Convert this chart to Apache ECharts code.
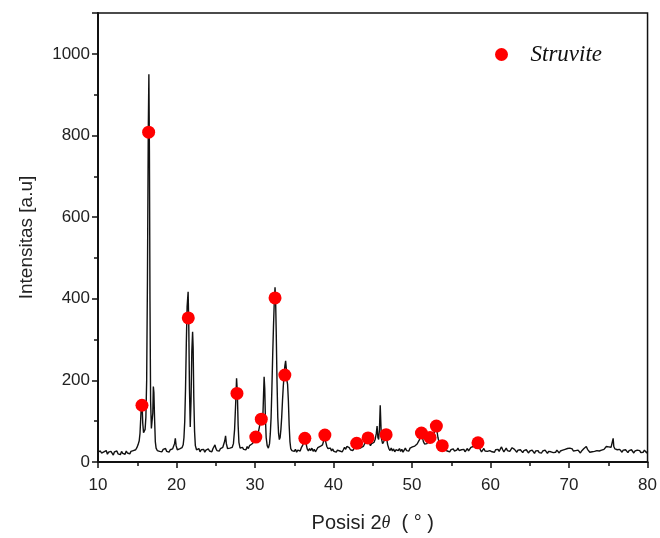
<!DOCTYPE html>
<html>
<head>
<meta charset="utf-8">
<script src="https://cdn.jsdelivr.net/npm/echarts@6/dist/echarts.min.js"></script>
<style>
  html, body { margin: 0; padding: 0; background: #fff; }
  #chart { width: 660px; height: 538px; }
</style>
</head>
<body>
<div id="chart"></div>
<script>
// XRD scan, [2theta, intensity] in pieces
var scan10to17 = [
  [10.0,24],[10.15,20],[10.3,27],[10.45,22],[10.6,18],[10.75,25],[10.9,21],[11.05,28],[11.2,19],[11.35,24],
  [11.5,20],[11.65,26],[11.8,22],[11.95,17],[12.1,25],[12.25,21],[12.4,27],[12.55,20],[12.7,23],[12.85,18],
  [13.0,26],[13.15,21],[13.3,24],[13.45,19],[13.6,27],[13.75,22],[13.9,25],[14.05,20],[14.2,26],[14.35,23],
  [14.5,28],[14.65,24],[14.8,30],[14.95,35],[15.1,42],[15.25,52],[15.35,70],[15.45,110],[15.55,150],[15.62,140],
  [15.7,95],[15.8,72],[15.9,76],[16.0,80],[16.1,110],[16.2,200],[16.3,450],[16.4,800],[16.48,950],[16.55,760],
  [16.62,400],[16.7,150],[16.8,82],[16.9,78],[16.98,120],[17.05,185],[17.12,170],[17.2,110],[17.3,50],[17.4,34]
];
var scan17to23 = [
  [17.55,28],[17.7,32],[17.85,26],[18.0,30],[18.15,25],[18.3,31],[18.45,27],[18.6,33],[18.75,26],[18.9,29],
  [19.05,24],[19.2,30],[19.35,27],[19.5,32],[19.65,36],[19.75,45],[19.85,58],[19.95,40],[20.1,30],[20.25,27],
  [20.4,32],[20.55,28],[20.7,35],[20.85,42],[20.95,60],[21.05,100],[21.15,180],[21.25,290],[21.35,380],[21.48,417],
  [21.56,340],[21.65,180],[21.75,86],[21.85,150],[21.95,270],[22.05,319],[22.12,280],[22.2,160],[22.3,75],[22.4,40],
  [22.55,30]
];
var scan23to30 = [
  [22.7,27],[22.85,33],[23.0,25],[23.15,30],[23.3,26],[23.45,31],[23.6,24],[23.75,29],[23.9,26],[24.05,32],
  [24.2,27],[24.35,30],[24.5,25],[24.65,33],[24.8,36],[24.9,42],[25.0,34],[25.15,28],[25.3,31],[25.45,27],
  [25.6,33],[25.75,30],[25.9,36],[26.05,40],[26.15,52],[26.25,64],[26.35,45],[26.5,33],[26.65,30],[26.8,34],
  [26.95,31],[27.1,36],[27.25,45],[27.4,80],[27.55,150],[27.65,205],[27.75,170],[27.85,90],[27.95,48],[28.1,34],
  [28.25,30],[28.4,36],[28.55,31],[28.7,35],[28.85,30],[29.0,38],[29.15,33],[29.3,40],[29.45,37],[29.6,44],
  [29.75,40],[29.9,50],[30.0,58],[30.1,62],[30.2,55]
];
var scan30to35 = [
  [30.3,60],[30.45,75],[30.6,90],[30.7,100],[30.8,108],[30.9,100],[31.0,110],[31.08,160],[31.16,209],[31.24,180],
  [31.32,110],[31.42,60],[31.55,40],[31.7,34],[31.85,45],[31.95,70],[32.05,110],[32.15,180],[32.25,260],[32.35,330],
  [32.45,390],[32.55,428],[32.62,400],[32.7,320],[32.8,200],[32.9,110],[33.0,70],[33.1,55],[33.2,60],[33.3,80],
  [33.4,110],[33.5,150],[33.6,185],[33.7,210],[33.8,235],[33.9,248],[33.98,230],[34.06,200],[34.15,190],[34.25,150],
  [34.35,90],[34.45,50],[34.55,33],[34.7,28],[34.85,32]
];
var scan35to45 = [
  [35.0,26],[35.15,31],[35.3,24],[35.45,29],[35.6,33],[35.75,27],[35.9,35],[36.05,40],[36.2,48],[36.35,58],
  [36.5,45],[36.65,32],[36.8,27],[36.95,33],[37.1,28],[37.25,34],[37.4,26],[37.55,31],[37.7,25],[37.85,30],
  [38.0,35],[38.15,31],[38.3,38],[38.45,34],[38.6,42],[38.75,52],[38.9,67],[39.0,50],[39.15,38],[39.3,33],
  [39.45,29],[39.6,34],[39.75,27],[39.9,32],[40.05,26],[40.2,30],[40.35,24],[40.5,29],[40.65,33],[40.8,27],
  [40.95,31],[41.1,25],[41.25,30],[41.4,36],[41.55,31],[41.7,38],[41.85,42],[42.0,35],[42.15,30],[42.3,34],
  [42.45,28],[42.6,32],[42.75,38],[42.9,46],[43.05,40],[43.2,33],[43.35,29],[43.5,35],[43.65,31],[43.8,38],
  [43.95,44],[44.1,40],[44.25,50],[44.4,60],[44.55,48],[44.7,40],[44.85,45]
];
var scan45to55 = [
  [45.0,42],[45.15,48],[45.3,55],[45.45,70],[45.55,88],[45.65,60],[45.75,55],[45.85,80],[45.95,139],[46.02,100],
  [46.1,58],[46.25,45],[46.4,50],[46.55,58],[46.65,68],[46.75,60],[46.9,42],[47.05,33],[47.2,28],[47.35,34],
  [47.5,27],[47.65,32],[47.8,25],[47.95,30],[48.1,34],[48.25,28],[48.4,33],[48.55,26],[48.7,31],[48.85,24],
  [49.0,29],[49.15,34],[49.3,28],[49.45,32],[49.6,27],[49.75,34],[49.9,30],[50.05,37],[50.2,33],[50.35,39],
  [50.5,36],[50.65,44],[50.8,48],[50.95,55],[51.1,66],[51.2,72],[51.3,62],[51.45,50],[51.6,44],[51.75,48],
  [51.9,45],[52.05,52],[52.2,58],[52.3,61],[52.45,52],[52.6,56],[52.75,66],[52.9,78],[53.05,88],[53.15,80],
  [53.3,60],[53.45,48],[53.6,43],[53.75,38],[53.9,40],[54.05,34],[54.2,29],[54.35,33],[54.5,27],[54.65,31],
  [54.8,25],[54.95,30]
];
var scan55to65 = [
  [55.1,26],[55.25,32],[55.4,27],[55.55,23],[55.7,29],[55.85,34],[56.0,28],[56.15,24],[56.3,30],[56.45,26],
  [56.6,31],[56.75,25],[56.9,29],[57.05,33],[57.2,27],[57.35,31],[57.5,36],[57.65,33],[57.8,38],[57.95,41],
  [58.1,44],[58.25,47],[58.4,49],[58.55,40],[58.7,30],[58.85,25],[59.0,29],[59.15,33],[59.3,27],[59.45,31],
  [59.6,26],[59.75,22],[59.9,28],[60.05,31],[60.2,25],[60.35,29],[60.5,24],[60.65,30],[60.8,27],[60.95,31],
  [61.1,26],[61.25,32],[61.4,37],[61.55,30],[61.7,25],[61.85,29],[62.0,34],[62.15,28],[62.3,32],[62.45,26],
  [62.6,30],[62.75,35],[62.9,37],[63.05,31],[63.2,27],[63.35,24],[63.5,29],[63.65,25],[63.8,30],[63.95,27],
  [64.1,23],[64.25,28],[64.4,25],[64.55,30],[64.7,26],[64.85,22]
];
var scan65to80 = [
  [65.0,27],[65.15,24],[65.3,29],[65.45,25],[65.6,21],[65.75,27],[65.9,24],[66.05,28],[66.2,23],[66.35,26],
  [66.5,22],[66.65,27],[66.8,24],[66.95,29],[67.1,25],[67.25,21],[67.4,26],[67.55,30],[67.7,25],[67.85,28],
  [68.0,23],[68.15,27],[68.3,24],[68.45,29],[68.6,26],[68.75,22],[68.9,27],[69.05,24],[69.2,29],[69.35,26],
  [69.5,31],[69.65,27],[69.8,33],[69.95,30],[70.1,34],[70.25,38],[70.4,32],[70.55,27],[70.7,24],[70.85,28],
  [71.0,25],[71.15,29],[71.3,26],[71.45,22],[71.6,27],[71.75,30],[71.9,33],[72.05,36],[72.2,38],[72.35,31],
  [72.5,27],[72.65,24],[72.8,28],[72.95,25],[73.1,29],[73.25,26],[73.4,23],[73.55,28],[73.7,31],[73.85,27],
  [74.0,24],[74.15,29],[74.3,26],[74.45,31],[74.6,34],[74.75,38],[74.9,42],[75.05,37],[75.2,33],[75.35,36],
  [75.5,40],[75.62,58],[75.7,38],[75.85,32],[76.0,35],[76.15,30],[76.3,26],[76.45,31],[76.6,27],[76.75,24],
  [76.9,29],[77.05,25],[77.2,30],[77.35,27],[77.5,23],[77.65,28],[77.8,25],[77.95,30],[78.1,26],[78.25,22],
  [78.4,27],[78.55,24],[78.7,29],[78.85,25],[79.0,28],[79.15,23],[79.3,27],[79.45,24],[79.6,29],[79.75,25],
  [79.9,22],[80.0,26]
];

// struvite markers
var struviteAngle = [15.6, 16.45, 21.5, 27.7, 30.1, 30.8, 32.55, 33.8, 36.35, 38.9, 42.95, 44.4, 46.7, 51.2, 52.3, 53.1, 53.85, 58.4];
var struviteIntensity = [139, 808, 353, 168, 61, 105, 402, 213, 58, 66, 46, 59, 67, 71, 60, 88, 40, 47];

var xTicks = [10, 20, 30, 40, 50, 60, 70, 80];
var yTicks = [0, 200, 400, 600, 800, 1000];

var scan = [].concat(scan10to17, scan17to23, scan23to30, scan30to35, scan35to45, scan45to55, scan55to65, scan65to80);
var dots = [];
for (var i = 0; i < struviteAngle.length; i++) {
  dots.push([struviteAngle[i], struviteIntensity[i]]);
}

var chartDom = document.getElementById('chart');
var myChart = echarts.init(chartDom, null, { renderer: 'canvas' });
var font = 'Liberation Sans, Arial, sans-serif';

var option = {
  animation: false,
  backgroundColor: '#fff',
  grid: {
    left: 98,
    right: 8,
    top: 13,
    bottom: 74,
    show: true,
    borderColor: '#111',
    borderWidth: 1.5
  },
  legend: {
    data: ['Struvite'],
    left: 490,
    top: 38,
    icon: 'circle',
    itemWidth: 40,
    itemHeight: 13,
    textStyle: {
      fontFamily: 'Liberation Serif, DejaVu Serif, serif',
      fontStyle: 'italic',
      fontSize: 23,
      color: '#111',
      padding: [0, 0, 0, 4]
    }
  },
  xAxis: {
    type: 'value',
    min: xTicks[0],
    max: xTicks[xTicks.length - 1],
    interval: 10,
    name: '{n|Posisi 2}{t|θ}{n|  ( }{d|°}{n| )}',
    nameLocation: 'middle',
    nameGap: 51,
    nameTextStyle: {
      rich: {
        n: { fontFamily: font, fontSize: 20, color: '#222' },
        t: { fontFamily: 'Liberation Serif, serif', fontStyle: 'italic', fontSize: 18, color: '#222' },
        d: { fontFamily: font, fontSize: 20, color: '#222', verticalAlign: 'top' }
      }
    },
    axisLine: { lineStyle: { color: '#111', width: 2 } },
    axisTick: { length: 6, lineStyle: { color: '#111', width: 1.5 } },
    minorTick: { show: true, splitNumber: 2, length: 4, lineStyle: { color: '#111', width: 1.5 } },
    splitLine: { show: false },
    axisLabel: { fontFamily: font, fontSize: 17, color: '#222', margin: 15 }
  },
  yAxis: {
    type: 'value',
    min: yTicks[0],
    max: 1100,
    interval: 200,
    name: 'Intensitas [a.u]',
    nameLocation: 'middle',
    nameGap: 62,
    nameTextStyle: { fontFamily: font, fontSize: 19, color: '#222' },
    axisLine: { show: true, lineStyle: { color: '#111', width: 2 } },
    axisTick: { show: true, length: 6, lineStyle: { color: '#111', width: 1.5 } },
    minorTick: { show: true, splitNumber: 2, length: 4, lineStyle: { color: '#111', width: 1.5 } },
    splitLine: { show: false },
    axisLabel: {
      fontFamily: font, fontSize: 17, color: '#222', margin: 8,
      formatter: function (v) { return v > 1000 ? '' : v; }
    }
  },
  series: [
    {
      name: 'scan',
      type: 'line',
      data: scan,
      showSymbol: false,
      lineStyle: { color: '#111', width: 1.4 },
      z: 2
    },
    {
      name: 'Struvite',
      type: 'scatter',
      data: dots,
      symbol: 'circle',
      symbolSize: 13,
      itemStyle: { color: '#ff0000', opacity: 1 },
      z: 3
    }
  ]
};
myChart.setOption(option);
</script>
</body>
</html>
